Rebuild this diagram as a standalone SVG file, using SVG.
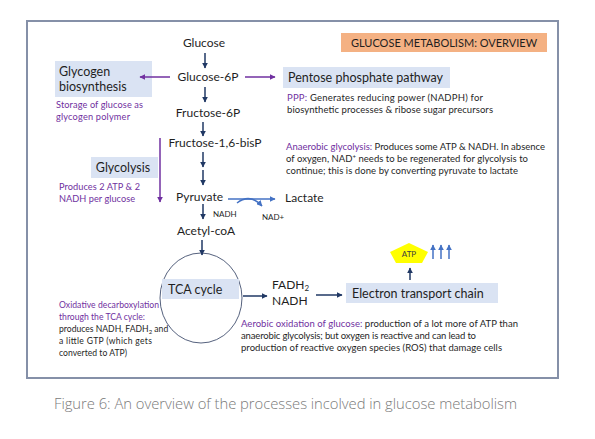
<svg xmlns="http://www.w3.org/2000/svg" width="595" height="439" viewBox="0 0 595 439">
<defs>
<marker id="hn" viewBox="0 0 10 10" refX="9" refY="5" markerWidth="6" markerHeight="6" markerUnits="userSpaceOnUse" orient="auto"><path d="M0,0 L10,5 L0,10 z" fill="#203864"/></marker>
<marker id="hp" viewBox="0 0 10 10" refX="9" refY="5" markerWidth="6" markerHeight="6" markerUnits="userSpaceOnUse" orient="auto"><path d="M0,0 L10,5 L0,10 z" fill="#7030A0"/></marker>
<marker id="hb" viewBox="0 0 10 10" refX="9" refY="5" markerWidth="6" markerHeight="6" markerUnits="userSpaceOnUse" orient="auto"><path d="M0,0 L10,5 L0,10 z" fill="#4472C4"/></marker>
</defs>
<style>
text{font-family:Lato,"Liberation Sans",sans-serif;fill:#1f1f1f}
.m{font-size:12px}
.b{font-size:12.5px}
.s{font-size:9.5px}
.s2{font-size:9.2px}
.s3{font-size:8.6px}
.t{font-size:8px}
.p{fill:#7030A0}
.box{fill:#DAE3F3}
.n{stroke:#203864;stroke-width:1.5;fill:none;marker-end:url(#hn)}
.pu{stroke:#7030A0;stroke-width:1.5;fill:none;marker-end:url(#hp)}
.bl{stroke:#4472C4;stroke-width:1.5;fill:none;marker-end:url(#hb)}
</style>
<rect width="595" height="439" fill="#ffffff"/>
<rect x="27" y="21" width="531" height="357" fill="#ffffff" stroke="#8590a8" stroke-width="2"/>

<g id="title"><rect x="341" y="33" width="206" height="19" fill="#F4B183"/><text x="444" y="46.5" text-anchor="middle" style="font-size:11px">GLUCOSE METABOLISM: OVERVIEW</text></g>

<g id="glucose"><text class="m" x="204" y="47" text-anchor="middle">Glucose</text></g>
<g id="glucose6p"><text class="m" x="208" y="81" text-anchor="middle">Glucose-6P</text></g>
<g id="fructose6p"><text class="m" x="208" y="117" text-anchor="middle">Fructose-6P</text></g>
<g id="fructose16"><text class="m" x="215" y="147" text-anchor="middle">Fructose-1,6-bisP</text></g>
<g id="pyruvate"><text class="m" x="176" y="201">Pyruvate</text></g>
<g id="acetyl"><text class="m" x="177" y="235">Acetyl-coA</text></g>
<g id="lactate"><text class="m" x="285" y="202">Lactate</text></g>
<g id="nadh1"><text class="t" x="213" y="217">NADH</text></g>
<g id="nadplus"><text class="t" x="262" y="220">NAD+</text></g>

<g id="glycogen"><rect class="box" x="55" y="61" width="97" height="36"/><text class="b" x="59" y="76">Glycogen</text><text class="b" x="59" y="91">biosynthesis</text>
<text class="s2 p" x="56" y="108" textLength="87">Storage of glucose as</text><text class="s2 p" x="56" y="120" textLength="74">glycogen polymer</text></g>

<g id="ppp"><rect class="box" x="283" y="67" width="167" height="21"/><text class="b" x="288" y="82">Pentose phosphate pathway</text>
<text class="s" x="287" y="101" textLength="196"><tspan class="p">PPP:</tspan> Generates reducing power (NADPH) for</text><text class="s" x="287" y="113" textLength="206">biosynthetic processes &amp; ribose sugar precursors</text></g>

<g id="glycolysis"><rect class="box" x="91" y="157" width="67" height="21"/><text class="b" x="123" y="172" text-anchor="middle">Glycolysis</text>
<text class="s2 p" x="59" y="190" textLength="81">Produces 2 ATP &amp; 2</text><text class="s2 p" x="59" y="202" textLength="76">NADH per glucose</text></g>

<g id="anaerobic"><text class="s" x="286" y="150" textLength="259"><tspan class="p">Anaerobic glycolysis:</tspan> Produces some ATP &amp; NADH. In absence</text>
<text class="s" x="286" y="162" textLength="242">of oxygen, NAD<tspan dy="-3" style="font-size:6px">+</tspan><tspan dy="3"> needs to be regenerated for glycolysis to</tspan></text>
<text class="s" x="286" y="174" textLength="232">continue; this is done by converting pyruvate to lactate</text></g>

<g id="tca"><ellipse cx="201" cy="298" rx="41" ry="45" fill="none" stroke="#56627e" stroke-width="1"/><rect class="box" x="162" y="279" width="77" height="20"/><text class="b" x="168" y="294">TCA cycle</text>
<text class="s3 p" x="59" y="308" textLength="100">Oxidative decarboxylation</text><text class="s3 p" x="59" y="320" textLength="86">through the TCA cycle:</text>
<text class="s3" x="59" y="332">produces NADH, FADH<tspan dy="2" style="font-size:6px">2</tspan><tspan dy="-2"> and</tspan></text>
<text class="s3" x="59" y="344" textLength="93">a little GTP (which gets</text><text class="s3" x="59" y="356" textLength="68">converted to ATP)</text></g>

<g id="fadh"><text class="m" x="272" y="289">FADH<tspan dy="2" style="font-size:8px">2</tspan></text><text class="m" x="272" y="305">NADH</text></g>

<g id="etc"><rect class="box" x="346" y="283" width="152" height="20"/><text class="b" x="352" y="297.5">Electron transport chain</text>
<text class="s" x="241" y="327" textLength="277"><tspan class="p">Aerobic oxidation of glucose:</tspan> production of a lot more of ATP than</text>
<text class="s" x="241" y="339" textLength="235">anaerobic glycolysis; but oxygen is reactive and can lead to</text>
<text class="s" x="241" y="351" textLength="261">production of reactive oxygen species (ROS) that damage cells</text></g>

<g id="atp"><polygon points="409,243 428,252 422,263 396,263 390,252" fill="#FFFF00"/><text x="409" y="257" text-anchor="middle" style="font-size:8px;fill:#404040">ATP</text></g>

<g id="connectors">
<line class="n" x1="205" y1="53" x2="205" y2="68"/>
<line class="n" x1="205" y1="87" x2="205" y2="102"/>
<line class="n" x1="203" y1="122" x2="203" y2="136"/>
<line class="n" x1="203" y1="152" x2="203" y2="167"/>
<line class="n" x1="203" y1="170" x2="203" y2="185"/>
<line class="n" x1="203" y1="204" x2="203" y2="219"/>
<line class="n" x1="202" y1="240" x2="202" y2="255"/>
<line class="n" x1="243" y1="296" x2="267" y2="296"/>
<line class="n" x1="316" y1="295" x2="342" y2="295"/>
<line class="n" x1="410" y1="280" x2="410" y2="268"/>
<line class="pu" x1="170" y1="77" x2="140" y2="77"/>
<line class="pu" x1="245" y1="77" x2="275" y2="77"/>
<line class="pu" x1="160" y1="138" x2="160" y2="202"/>
<line class="bl" x1="228" y1="199" x2="275" y2="199"/>
<path class="bl" d="M237,203 Q250,193 262,206"/>
<line class="bl" x1="433" y1="259" x2="433" y2="245"/>
<line class="bl" x1="441" y1="259" x2="441" y2="245"/>
<line class="bl" x1="449" y1="259" x2="449" y2="245"/>
</g>

<g id="caption"><text x="54" y="409" textLength="463" style="font-family:'Open Sans','Liberation Sans',sans-serif;font-weight:300;font-size:14.8px;fill:#7a7a7a">Figure 6: An overview of the processes incolved in glucose metabolism</text></g>
</svg>
